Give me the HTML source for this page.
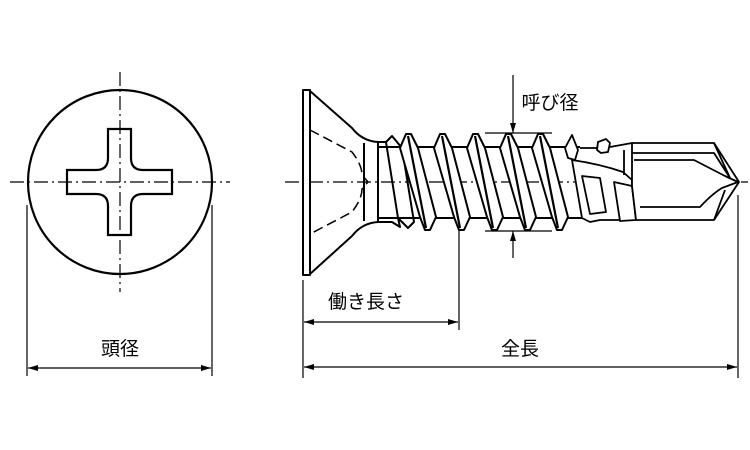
<!DOCTYPE html>
<html><head><meta charset="utf-8"><style>
html,body{margin:0;padding:0;background:#fff;}
svg{display:block;}
text{font-family:"Liberation Sans","Noto Sans CJK JP",sans-serif;font-size:19px;fill:#000;}
</style></head><body>
<svg width="750" height="450" viewBox="0 0 750 450" xmlns="http://www.w3.org/2000/svg">
<defs>
<marker id="a" viewBox="0 0 10 6" refX="10" refY="3" markerWidth="12" markerHeight="6" orient="auto-start-reverse" markerUnits="userSpaceOnUse"><path d="M0,0 L10,3 L0,6 z" fill="#000"/></marker>
</defs>
<g fill="none" stroke="#000" stroke-width="2.2">
<circle cx="120" cy="182" r="92"/>
<path d="M108,129 H131 V158 Q131,170 143,170 H172 V194 H143 Q131,194 131,206 V235 H108 V206 Q108,194 96,194 H67 V170 H96 Q108,170 108,158 Z"/>
</g>
<g stroke="#000" stroke-width="1.2" fill="none">
<line x1="10" y1="182" x2="230" y2="182" stroke-dasharray="14,4,2,4"/>
<line x1="120" y1="72" x2="120" y2="292" stroke-dasharray="14,4,2,4"/>
<line x1="27" y1="205" x2="27" y2="376"/>
<line x1="212" y1="205" x2="212" y2="376"/>
<line x1="28" y1="368" x2="211" y2="368" marker-start="url(#a)" marker-end="url(#a)"/>
<line x1="303" y1="280" x2="303" y2="378"/>
<line x1="459" y1="230" x2="459" y2="330"/>
<line x1="738" y1="195" x2="738" y2="378"/>
<line x1="304" y1="322" x2="458" y2="322" marker-start="url(#a)" marker-end="url(#a)"/>
<line x1="304" y1="367" x2="737" y2="367" marker-start="url(#a)" marker-end="url(#a)"/>
<line x1="513" y1="75" x2="513" y2="133" marker-end="url(#a)"/>
<line x1="513" y1="258" x2="513" y2="231" marker-end="url(#a)"/>
<line x1="485" y1="133" x2="552" y2="133"/>
<line x1="485" y1="231" x2="552" y2="231"/>
<line x1="285" y1="182" x2="748" y2="182" stroke-dasharray="14,4,2,4"/>
</g>
<g fill="none" stroke="#000" stroke-width="2" stroke-linejoin="round">
<rect x="303" y="90" width="7" height="185" fill="#fff"/>
<path d="M310,91 L352,128 Q362,141 378,142 L378,222 Q362,223 352,236 L310,274"/>
<line x1="364" y1="143" x2="364" y2="221"/>
<path d="M310,130 L352,152 Q362,165 362,175 L368,182 L362,189 Q362,199 352,212 L310,234" stroke-dasharray="10,5" stroke-width="1.5"/>
<line x1="378" y1="147" x2="580" y2="147"/>
<line x1="378" y1="218" x2="600" y2="218"/>
<path d="M378,142 L386,142 L398,218 L400,227 L392,222 L378,222"/>
<path d="M386,142 L392,136 L402,148 L414,222 L408,228 L398,218"/>
</g>
<g fill="#fff" stroke="#000" stroke-width="2" stroke-linejoin="round">
<path d="M400,148 L406,134 L411,134 L418,148 L436,217 L430,230 L425,230 L420,217 Z"/>
<path d="M434,148 L440,134 L445,134 L452,148 L470,217 L464,230 L459,230 L454,217 Z"/>
<path d="M467,148 L473,134 L478,134 L485,148 L503,217 L497,230 L492,230 L487,217 Z"/>
<path d="M500,148 L506,134 L511,134 L518,148 L536,217 L530,230 L525,230 L520,217 Z"/>
<path d="M532,148 L538,134 L543,134 L550,148 L568,217 L562,230 L557,230 L552,217 Z"/>
</g>
<g fill="none" stroke="#000" stroke-width="2.2">
<path d="M408,136 L426,228 M442,136 L460,228 M475,136 L493,228 M508,136 L526,228 M540,136 L558,228"/>
</g>
<g fill="#fff" stroke="#000" stroke-width="1.8" stroke-linejoin="round">
<path d="M565,148 L572,135 L578,150 L575,160 L568,158 Z"/>
<path d="M572,160 Q600,164 623,172 L632,180 L632,220 L600,220 L590,222 L582,218 Z"/>
<path d="M582,176 L600,178 L606,212 L590,214 Z"/>
<path d="M614,182 L632,186 L636,220 L620,221 Z"/>
<path d="M580,148 L598,148 M598,142 L606,139 L610,143 L608,152 L601,153 L597,150 Z"/>
<path d="M610,147 L632,143"/>
<line x1="624" y1="150" x2="624" y2="175"/>
<path d="M632,143 L714,143 L739,182 L714,220 L636,220 L632,186 Z"/>
<path d="M632,153 L714,153 L730,178"/>
<path d="M634,160 L694,160 L725,176 L738,182"/>
<path d="M640,207 L700,207 Q712,194 722,188 L738,182"/>
<path d="M714,143 L730,178 M714,220 L725,190"/>
</g>
<text x="120" y="355" text-anchor="middle">頭径</text>
<text x="366" y="308" text-anchor="middle">働き長さ</text>
<text x="520" y="355" text-anchor="middle">全長</text>
<text x="550" y="109" text-anchor="middle">呼び径</text>
</svg>
</body></html>
